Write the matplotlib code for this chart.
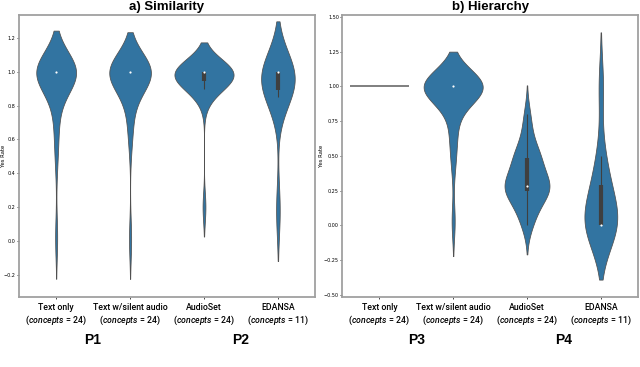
import numpy as np
import matplotlib
matplotlib.use("Agg")
import matplotlib.pyplot as plt
from matplotlib import mlab

LABEL_FONT = "Roboto"
plt.rcParams["mathtext.fontset"] = "custom"
plt.rcParams["mathtext.it"] = "Roboto:italic:medium"
plt.rcParams["mathtext.rm"] = "Roboto:medium"

BLUE = "#3274a1"
GRAY = "#3f3f3f"
SPINE = "#a0a0a0"

# yes rate per concept
sim_text_only = [0.02, 0.5, 0.65, 0.75, 0.85] + [1.0] * 19
sim_text_silent = [0.01, 0.6, 0.7, 0.8, 0.85] + [1.0] * 19
sim_audioset = [0.2, 0.85, 0.9, 0.9, 0.92, 0.94, 0.95, 0.96] + [1.0] * 16
sim_edansa = [0.18, 0.85, 0.88, 0.9, 0.92] + [1.0] * 6

hier_text_only = [1.0] * 24
hier_text_silent = [0.03, 0.45, 0.6, 0.7, 0.8] + [1.0] * 19
hier_audioset = [0.0, 0.05, 0.1, 0.15, 0.18, 0.25, 0.25, 0.26, 0.27, 0.27, 0.28, 0.28,
                 0.29, 0.32, 0.36, 0.4, 0.45, 0.48, 0.5, 0.5, 0.52, 0.6, 0.7, 0.8]
hier_edansa = [0.0, 0.0, 0.0, 0.0, 0.0, 0.0, 0.17, 0.25, 0.33, 0.5, 1.0]

conditions = ["Text only", "Text w/silent audio", "AudioSet", "EDANSA"]
n_concepts = [24, 24, 24, 11]
tick_labels = [f"{c}\n($\\it{{concepts}}$ = {n})" for c, n in zip(conditions, n_concepts)]


def draw_violins(ax, groups):
    # seaborn-like violins: scott bandwidth, cut=2, area scaling
    kdes = []
    for vals in groups:
        vals = np.asarray(vals, dtype=float)
        if np.ptp(vals) == 0:
            kdes.append(None)
            continue
        kde = mlab.GaussianKDE(vals, "scott")
        bw = kde.factor * vals.std(ddof=1)
        coords = np.linspace(vals.min() - 2 * bw, vals.max() + 2 * bw, 200)
        kdes.append((coords, kde.evaluate(coords)))
    peak = max(k[1].max() for k in kdes if k is not None)

    for i, (vals, k) in enumerate(zip(groups, kdes)):
        vals = np.asarray(vals, dtype=float)
        if k is None:
            ax.hlines(vals[0], i - 0.4, i + 0.4, color="#6a6a6a", lw=1.2)
            continue
        coords, dens = k
        stats = [dict(coords=coords, vals=dens, mean=vals.mean(), median=np.median(vals),
                      min=vals.min(), max=vals.max())]
        parts = ax.violin(stats, positions=[i], widths=[0.8 * dens.max() / peak],
                          showmeans=False, showextrema=False, showmedians=False)
        for body in parts["bodies"]:
            body.set_facecolor(BLUE)
            body.set_edgecolor("#505050")
            body.set_alpha(1)
            body.set_linewidth(0.55)
        q1, med, q3 = np.percentile(vals, [25, 50, 75])
        iqr = q3 - q1
        lo = vals[vals >= q1 - 1.5 * iqr].min()
        hi = vals[vals <= q3 + 1.5 * iqr].max()
        ax.vlines(i, lo, hi, color=GRAY, lw=0.8, zorder=2)
        ax.vlines(i, q1, q3, color=GRAY, lw=3, zorder=2)
        ax.scatter([i], [med], s=2.5, color="white", zorder=3, linewidths=0)


def style_axes(ax, title, ylim, yticks, plabels, label_x):
    ax.set_xlim(-0.5, 3.5)
    ax.set_ylim(*ylim)
    ax.set_yticks(yticks)
    ax.set_xticks(range(4))
    ax.set_xticklabels(tick_labels, fontsize=6.3, family=LABEL_FONT, fontweight="medium",
                       linespacing=1.2)
    ax.tick_params(axis="y", labelsize=3.5, length=1.5, width=0.5, pad=1)
    ax.tick_params(axis="x", length=1.5, width=0.5, pad=3)
    for s in ax.spines.values():
        s.set_color(SPINE)
        s.set_linewidth(1.3)
    ax.set_ylabel("Yes Rate", fontsize=3.8)
    ax.yaxis.set_label_coords(label_x, 0.5)
    ax.set_title(title, fontsize=9.5, fontweight="bold", family="Liberation Sans", pad=3.5)
    for x, lab in plabels:
        ax.text(x, -0.152, lab, transform=ax.get_xaxis_transform(), ha="center", va="center",
                fontsize=10, fontweight="bold", family="Liberation Sans")


fig = plt.figure(figsize=(6.4, 3.67), dpi=100)
ax1 = fig.add_axes([0.03, 0.191, 0.462, 0.768])
ax2 = fig.add_axes([0.535, 0.191, 0.4615, 0.768])

draw_violins(ax1, [sim_text_only, sim_text_silent, sim_audioset, sim_edansa])
draw_violins(ax2, [hier_text_only, hier_text_silent, hier_audioset, hier_edansa])

style_axes(ax1, "a) Similarity", (-0.33, 1.335), np.arange(-0.2, 1.21, 0.2),
           [(0.5, "P1"), (2.5, "P2")], -0.043)
style_axes(ax2, "b) Hierarchy", (-0.514, 1.514), np.arange(-0.5, 1.51, 0.25),
           [(0.5, "P3"), (2.5, "P4")], -0.062)

fig.savefig("out.png", dpi=100)
